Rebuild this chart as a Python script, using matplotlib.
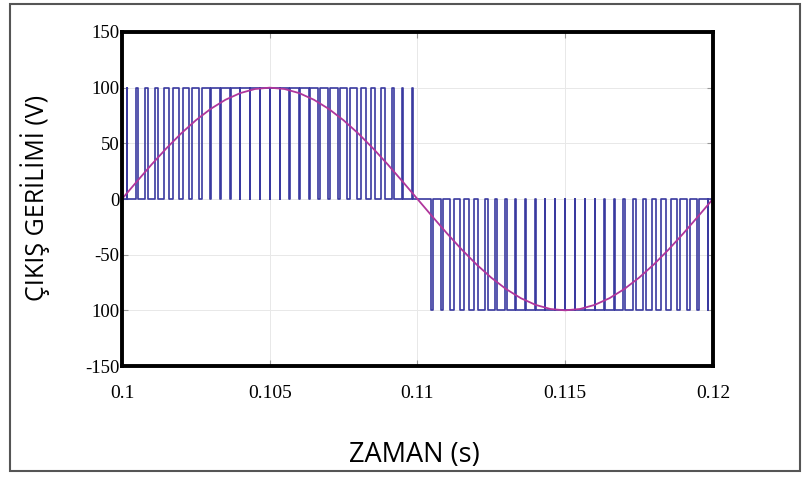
import matplotlib
matplotlib.use("Agg")
import matplotlib.pyplot as plt
from matplotlib.patches import Rectangle

# time grid / ticks
x_ticks = [0.1, 0.105, 0.11, 0.115, 0.12]
x_tick_labels = ["0.1", "0.105", "0.11", "0.115", "0.12"]
y_ticks = [150, 100, 50, 0, -50, -100, -150]
y_tick_labels = ["150", "100", "50", "0", "-50", "100", "-150"]  # as printed in the original

sine_t = [0.1 + 0.0005 * i for i in range(41)]
sine_v = [0, 15.6, 30.9, 45.4, 58.8, 70.7, 80.9, 89.1, 95.1, 98.8,
          100, 98.8, 95.1, 89.1, 80.9, 70.7, 58.8, 45.4, 30.9, 15.6,
          0, -15.6, -30.9, -45.4, -58.8, -70.7, -80.9, -89.1, -95.1, -98.8,
          -100, -98.8, -95.1, -89.1, -80.9, -70.7, -58.8, -45.4, -30.9, -15.6, 0]

# PWM output: pulse duty ratios per carrier period (30 per half cycle)
carrier_period = 0.01 / 30
pulse_level = 100
duty_pos = [0.05, 0.16, 0.26, 0.36, 0.45, 0.55, 0.63, 0.71, 0.78, 0.84,
            0.89, 0.93, 0.97, 0.99, 1.0, 1.0, 0.99, 0.97, 0.93, 0.89,
            0.84, 0.78, 0.71, 0.63, 0.55, 0.45, 0.36, 0.26, 0.16, 0.05]
duty_neg = [0.0, 0.16, 0.26, 0.36, 0.45, 0.55, 0.63, 0.71, 0.78, 0.84,
            0.89, 0.93, 0.97, 1.0, 1.0, 1.0, 1.0, 0.97, 0.93, 0.89,
            0.84, 0.78, 0.71, 0.63, 0.55, 0.45, 0.36, 0.26, 0.16, 0.05]


def pwm_wave(t0, duties, level):
    t, v = [t0], [0]
    for k, d in enumerate(duties):
        if d <= 0:
            continue
        c = t0 + (k + 0.5) * carrier_period
        a, b = c - d * carrier_period / 2, c + d * carrier_period / 2
        t += [a, a, b, b]
        v += [0, level, level, 0]
    t.append(t0 + len(duties) * carrier_period)
    v.append(0)
    return t, v


tp, vp = pwm_wave(0.1, duty_pos, pulse_level)
tn, vn = pwm_wave(0.11, duty_neg, -pulse_level)

fig = plt.figure(figsize=(8.04, 4.79), dpi=100)
ax = fig.add_axes([0.1517, 0.2359, 0.735, 0.6973])

ax.plot(tp + tn, vp + vn, color="#3a3aa0", lw=1.2)
ax.plot(sine_t, sine_v, color="#b0369c", lw=1.3)

ax.set_xlim(0.1, 0.12)
ax.set_ylim(-150, 150)
ax.set_xticks(x_ticks)
ax.set_xticklabels(x_tick_labels, family="Liberation Serif", fontsize=14)
ax.set_yticks(y_ticks)
ax.set_yticklabels(y_tick_labels, family="Liberation Serif", fontsize=13.5)
ax.tick_params(axis="both", direction="in", length=4, width=0.8, color="#999999",
               top=True, right=True)
ax.tick_params(axis="x", pad=14)
ax.tick_params(axis="y", pad=2)
ax.grid(True, color="#e8e8e8", lw=0.7)
for s in ax.spines.values():
    s.set_linewidth(2.8)
    s.set_color("black")

fig.text(0.044, 0.5864, "ÇIKIŞ GERİLİMİ (V)", rotation=90, ha="center", va="center",
         family="Open Sans", fontsize=18)
fig.text(0.516, 0.05, "ZAMAN (s)", ha="center", va="center",
         family="Open Sans", fontsize=19.5)

fig.patches.append(Rectangle((0.012, 0.017), 0.983, 0.975, transform=fig.transFigure,
                             fill=False, edgecolor="#555555", lw=1.5))

fig.savefig("out.png", dpi=100)
